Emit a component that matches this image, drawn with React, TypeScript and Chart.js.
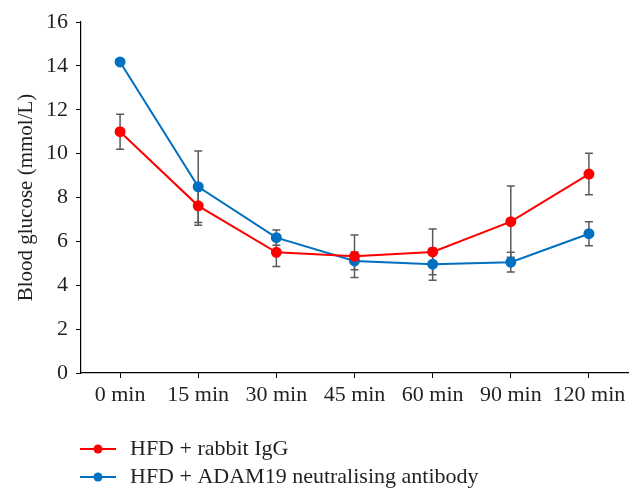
import React, { useEffect, useRef } from "react";
import { Chart, registerables } from "chart.js";

Chart.register(...registerables);

const categories = ["0 min", "15 min", "30 min", "45 min", "60 min", "90 min", "120 min"];
const igGValues = [11.0, 7.62, 5.5, 5.32, 5.52, 6.9, 9.07];
const igGErrors = [0.8, 0.88, 0.65, 0.97, 1.04, 1.62, 0.95];
const adamValues = [14.18, 8.49, 6.17, 5.11, 4.96, 5.05, 6.35];
const adamErrors = [0.05, 1.63, 0.35, 0.4, 0.73, 0.45, 0.55];
const seriesLabels = ["HFD + rabbit IgG", "HFD + ADAM19 neutralising antibody"];
const yTitle = "Blood glucose (mmol/L)";

const RED = "#ff0000";
const BLUE = "#0070c0";
const TEXT = "#231f20";
const FONT = '"Liberation Serif", "Times New Roman", serif';

const errorBarPlugin = {
  id: "errorBars",
  beforeDatasetsDraw(chart: any) {
    const ctx = chart.ctx;
    const y = chart.scales.y;
    ctx.save();
    ctx.strokeStyle = "#5a5a5a";
    ctx.lineWidth = 1.5;
    chart.data.datasets.forEach((ds: any, i: number) => {
      const meta = chart.getDatasetMeta(i);
      const errs: number[] = ds.errors;
      meta.data.forEach((pt: any, j: number) => {
        const v = ds.data[j];
        const e = errs[j];
        const top = y.getPixelForValue(v + e);
        const bot = y.getPixelForValue(v - e);
        const x = pt.x;
        ctx.beginPath();
        ctx.moveTo(x, top);
        ctx.lineTo(x, bot);
        ctx.moveTo(x - 4, top);
        ctx.lineTo(x + 4, top);
        ctx.moveTo(x - 4, bot);
        ctx.lineTo(x + 4, bot);
        ctx.stroke();
      });
    });
    ctx.restore();
  },
};

const legendPlugin = {
  id: "customLegend",
  afterDraw(chart: any) {
    const ctx = chart.ctx;
    const rows = [
      { label: seriesLabels[0], color: RED, y: 449 },
      { label: seriesLabels[1], color: BLUE, y: 477 },
    ];
    ctx.save();
    rows.forEach((r) => {
      ctx.strokeStyle = r.color;
      ctx.lineWidth = 2;
      ctx.beginPath();
      ctx.moveTo(80, r.y);
      ctx.lineTo(116, r.y);
      ctx.stroke();
      ctx.fillStyle = r.color;
      ctx.beginPath();
      ctx.arc(98, r.y, 4.5, 0, Math.PI * 2);
      ctx.fill();
      ctx.fillStyle = TEXT;
      ctx.font = `22px ${FONT}`;
      ctx.textBaseline = "middle";
      ctx.textAlign = "left";
      ctx.fillText(r.label, 130, r.y);
    });
    ctx.restore();
  },
};

export default function App() {
  const ref = useRef<HTMLCanvasElement>(null);
  useEffect(() => {
    if (!ref.current) return;
    const chart = new Chart(ref.current, {
      type: "line",
      data: {
        labels: categories,
        datasets: [
          {
            label: seriesLabels[0],
            data: igGValues,
            errors: igGErrors,
            borderColor: RED,
            backgroundColor: RED,
            pointBackgroundColor: RED,
            pointBorderColor: RED,
            borderWidth: 2,
            pointRadius: 4.5,
            tension: 0,
          } as any,
          {
            label: seriesLabels[1],
            data: adamValues,
            errors: adamErrors,
            borderColor: BLUE,
            backgroundColor: BLUE,
            pointBackgroundColor: BLUE,
            pointBorderColor: BLUE,
            borderWidth: 2,
            pointRadius: 4.5,
            tension: 0,
          } as any,
        ],
      },
      options: {
        animation: false,
        responsive: false,
        layout: { padding: { top: 22, right: 14, bottom: 88, left: 0 } },
        plugins: { legend: { display: false }, tooltip: { enabled: false } },
        scales: {
          x: {
            type: "category",
            offset: true,
            grid: { display: true, drawOnChartArea: false, drawTicks: true, tickLength: 5, color: "#000" },
            border: { color: "#000", width: 1.2 },
            ticks: { color: TEXT, font: { family: FONT, size: 22 }, padding: 4, maxRotation: 0 },
            afterFit: (s: any) => {
              s.height = 40;
            },
          },
          y: {
            min: 0,
            max: 16,
            ticks: { stepSize: 2, color: TEXT, font: { family: FONT, size: 22 }, padding: 8 },
            grid: { display: true, drawOnChartArea: false, drawTicks: true, tickLength: 5, color: "#000" },
            border: { color: "#000", width: 1.2 },
            title: {
              display: true,
              text: yTitle,
              color: TEXT,
              font: { family: FONT, size: 21 },
              padding: { top: 14, bottom: 0 },
            },
            afterFit: (s: any) => {
              s.width = 81;
            },
          },
        },
      },
      plugins: [errorBarPlugin, legendPlugin],
    } as any);
    return () => chart.destroy();
  }, []);
  return (
    <div style={{ position: "absolute", left: 0, top: 0, width: 642, height: 501, background: "#fff" }}>
      <canvas ref={ref} width={642} height={501} />
    </div>
  );
}
